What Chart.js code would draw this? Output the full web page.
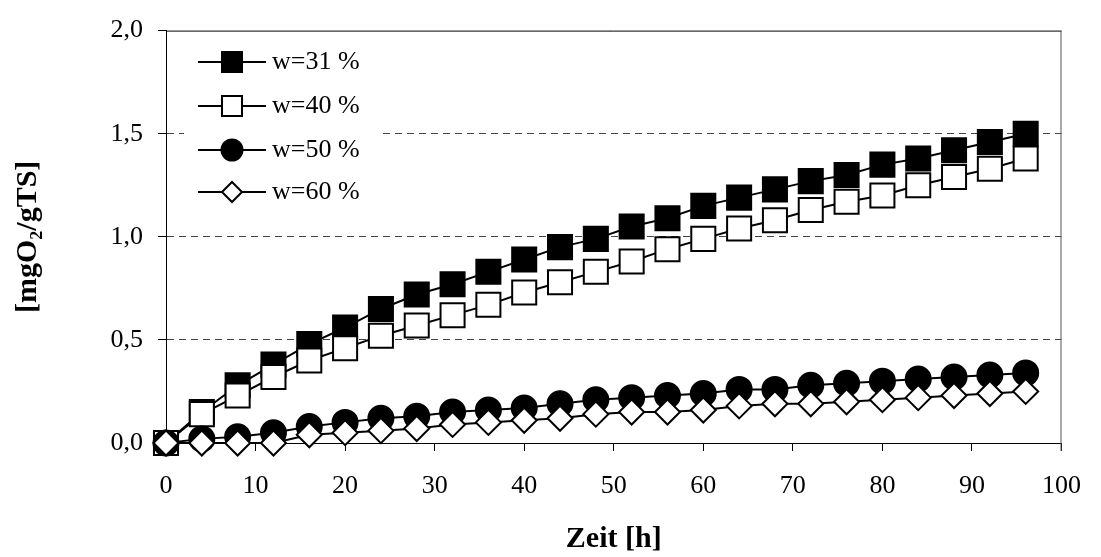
<!DOCTYPE html>
<html>
<head>
<meta charset="utf-8">
<script src="https://cdn.jsdelivr.net/npm/chart.js@4/dist/chart.umd.min.js"></script>
<style>
  html, body { margin: 0; padding: 0; background: #fff; }
  #wrap { width: 1101px; height: 557px; }
</style>
</head>
<body>
<div id="wrap"><canvas id="c" width="1101" height="557"></canvas></div>
<script>
const hours = [0, 4, 8, 12, 16, 20, 24, 28, 32, 36, 40, 44, 48, 52, 56, 60, 64, 68, 72, 76, 80, 84, 88, 92, 96];
const w31 = [0, 0.15, 0.28, 0.38, 0.48, 0.56, 0.65, 0.72, 0.77, 0.83, 0.89, 0.95, 0.99, 1.05, 1.09, 1.15, 1.19, 1.23, 1.27, 1.30, 1.35, 1.38, 1.42, 1.46, 1.50];
const w40 = [0, 0.14, 0.23, 0.32, 0.40, 0.46, 0.52, 0.57, 0.62, 0.67, 0.73, 0.78, 0.83, 0.88, 0.94, 0.99, 1.04, 1.08, 1.13, 1.17, 1.20, 1.25, 1.29, 1.33, 1.38];
const w50 = [0, 0.02, 0.03, 0.05, 0.08, 0.10, 0.12, 0.13, 0.15, 0.16, 0.17, 0.19, 0.21, 0.22, 0.23, 0.24, 0.26, 0.26, 0.28, 0.29, 0.30, 0.31, 0.32, 0.33, 0.34];
const w60 = [0, 0, 0, 0, 0.04, 0.05, 0.06, 0.07, 0.09, 0.10, 0.11, 0.12, 0.14, 0.15, 0.15, 0.16, 0.18, 0.19, 0.19, 0.20, 0.21, 0.22, 0.23, 0.24, 0.25];
const seriesLabels = ['w=31 %', 'w=40 %', 'w=50 %', 'w=60 %'];
const xTitle = 'Zeit [h]';
const yTitle = '[mgO\u2082/gTS]';

const FONT = "'Liberation Serif', 'Times New Roman', serif";

function pts(ys) { return hours.map((h, i) => ({ x: h, y: ys[i] })); }

const styles = [
  { pointStyle: 'rect', pointRadius: 17, fill: '#000', order: 4 },
  { pointStyle: 'rect', pointRadius: 17, fill: '#fff', order: 3 },
  { pointStyle: 'circle', pointRadius: 12.5, fill: '#000', order: 2 },
  { pointStyle: 'rectRot', pointRadius: 12.5, fill: '#fff', order: 1 }
];
const values = [w31, w40, w50, w60];

const datasets = values.map((v, i) => ({
  label: seriesLabels[i],
  data: pts(v),
  borderColor: '#000',
  borderWidth: 2,
  pointStyle: styles[i].pointStyle,
  pointRadius: styles[i].pointRadius,
  pointHoverRadius: styles[i].pointRadius,
  pointBackgroundColor: styles[i].fill,
  pointBorderColor: '#000',
  pointBorderWidth: 2,
  order: styles[i].order,
  clip: false,
  tension: 0
}));

const legendBg = {
  id: 'legendBg',
  beforeDatasetsDraw(chart) {
    const ctx = chart.ctx;
    ctx.save();
    ctx.fillStyle = '#fff';
    ctx.fillRect(184, 32, 198, 180);
    ctx.restore();
  }
};

const frameAndLegend = {
  id: 'frameAndLegend',
  afterDraw(chart) {
    const ctx = chart.ctx;
    const a = chart.chartArea;
    ctx.save();
    ctx.lineWidth = 1;
    ctx.strokeStyle = '#000';
    ctx.beginPath();
    ctx.moveTo(a.left, a.top + 0.5);
    ctx.lineTo(a.right, a.top + 0.5);
    ctx.stroke();
    ctx.strokeStyle = '#555';
    ctx.beginPath();
    ctx.moveTo(a.right - 0.5, a.top);
    ctx.lineTo(a.right - 0.5, a.bottom + 8);
    ctx.stroke();
    const rows = [62, 106, 150, 192];
    chart.data.datasets.forEach((ds, i) => {
      const y = rows[i];
      ctx.strokeStyle = '#000';
      ctx.lineWidth = 2;
      ctx.beginPath();
      ctx.moveTo(198, y);
      ctx.lineTo(266, y);
      ctx.stroke();
      ctx.fillStyle = ds.pointBackgroundColor;
      ctx.beginPath();
      const cx = 232;
      if (ds.pointStyle === 'rect') {
        ctx.rect(cx - 10, y - 10, 20, 20);
      } else if (ds.pointStyle === 'circle') {
        ctx.arc(cx, y, 10.5, 0, Math.PI * 2);
      } else {
        ctx.moveTo(cx - 10, y);
        ctx.lineTo(cx, y - 10);
        ctx.lineTo(cx + 10, y);
        ctx.lineTo(cx, y + 10);
        ctx.closePath();
      }
      ctx.fill();
      ctx.lineWidth = 2;
      ctx.stroke();
      ctx.fillStyle = '#000';
      ctx.font = "26px " + FONT;
      ctx.textBaseline = 'middle';
      ctx.textAlign = 'left';
      ctx.fillText(ds.label, 272, y);
    });
    ctx.restore();
  }
};

new Chart(document.getElementById('c'), {
  type: 'line',
  data: { datasets },
  options: {
    responsive: false,
    animation: false,
    events: [],
    layout: { padding: { top: 20, right: 19, left: 0, bottom: 0 } },
    plugins: { legend: { display: false }, tooltip: { enabled: false } },
    scales: {
      x: {
        type: 'linear',
        min: 0, max: 100,
        ticks: { stepSize: 10, color: '#000', padding: 20, font: { family: FONT, size: 26 }, maxRotation: 0 },
        grid: { drawOnChartArea: false, drawTicks: true, tickLength: 8, color: '#000', lineWidth: 1 },
        border: { color: '#000', width: 1 },
        title: { display: true, text: xTitle, color: '#000', font: { family: FONT, size: 30, weight: 'bold' }, padding: { top: 0, bottom: 0 } },
        afterFit(scale) { scale.height = 114; }
      },
      y: {
        min: 0, max: 2,
        ticks: {
          stepSize: 0.5, color: '#000', padding: 15,
          font: { family: FONT, size: 26 },
          callback: (v) => Number(v).toFixed(1).replace('.', ',')
        },
        grid: {
          drawTicks: true, tickLength: 8, lineWidth: 1,
          color: (c) => (c.tick && (c.tick.value === 0 || c.tick.value === 2)) ? 'rgba(0,0,0,0)' : '#444',
          tickColor: '#000'
        },
        border: { color: '#000', width: 1, dash: [7, 5] },
        title: { display: true, text: yTitle, color: '#000', font: { family: FONT, size: 30, weight: 'bold' }, padding: { top: 10, bottom: 0 } },
        afterFit(scale) { scale.width = 166; }
      }
    }
  },
  plugins: [legendBg, frameAndLegend]
});
</script>
</body>
</html>
